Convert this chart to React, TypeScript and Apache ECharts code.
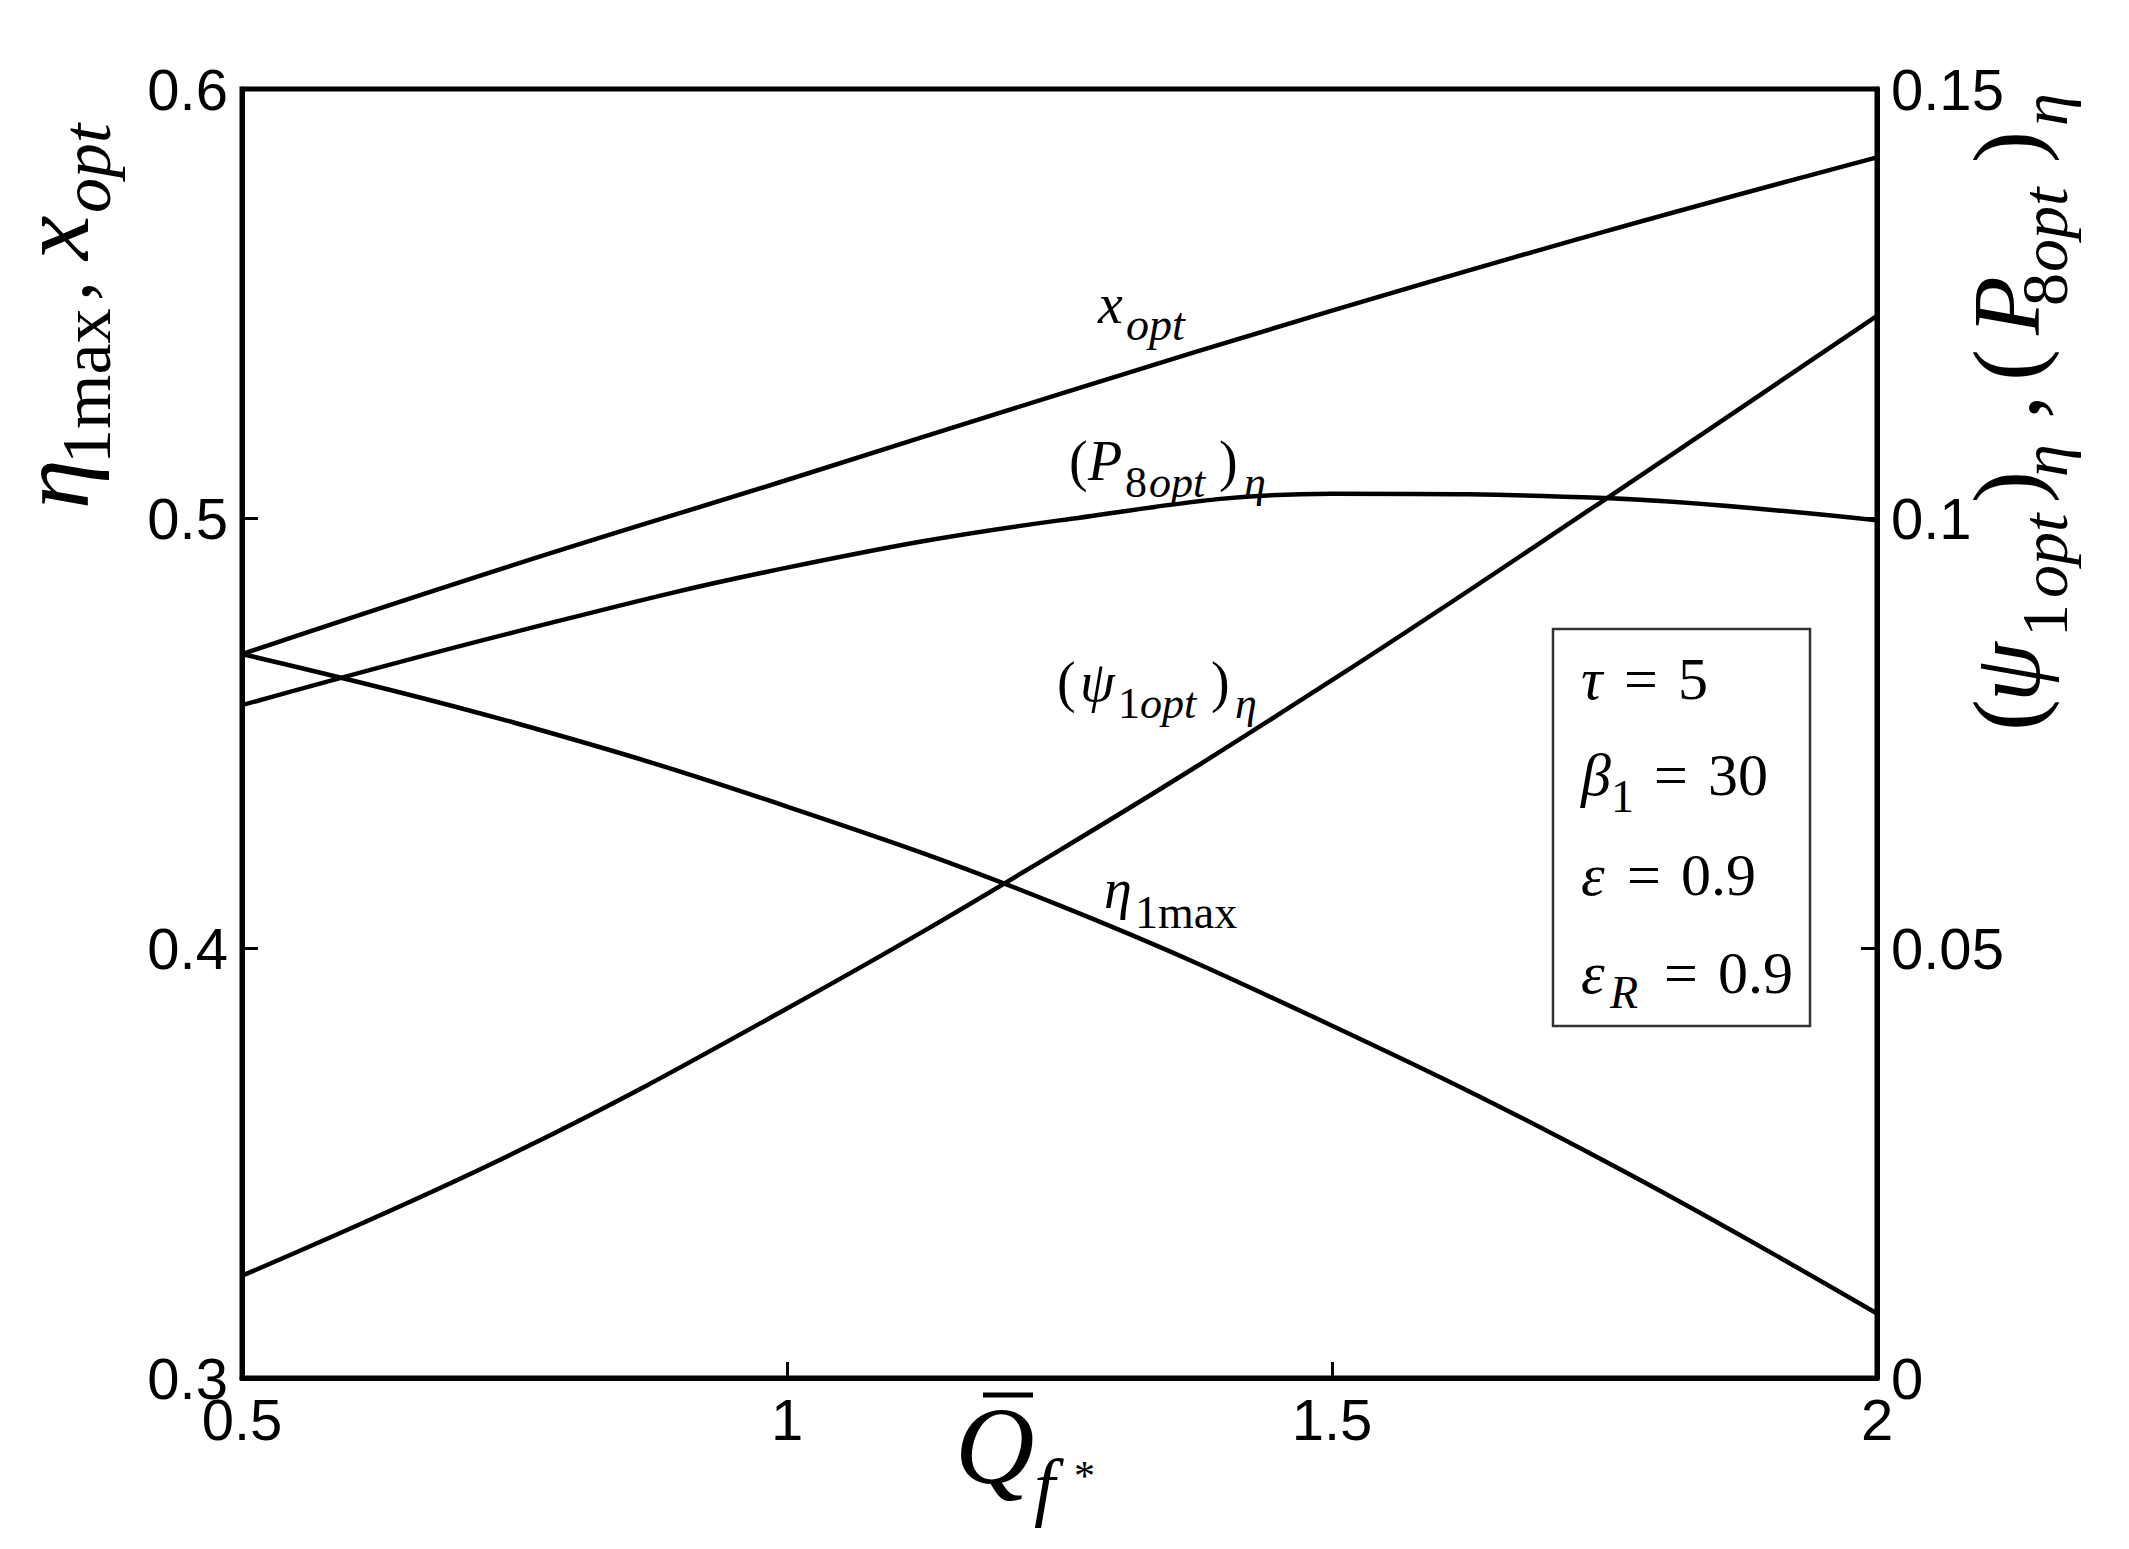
import React, { useEffect, useRef } from "react";
import * as echarts from "echarts";

// ---- data ----
const xValues = [0.5, 0.75, 1.0, 1.25, 1.5, 1.75, 2.0];
const xOptValues = [0.4685, 0.4893, 0.509, 0.529, 0.5484, 0.5668, 0.5841];
const eta1maxValues = [0.4685, 0.4525, 0.433, 0.41, 0.382, 0.3505, 0.315];
const psi1optValues = [0.0119, 0.0262, 0.043, 0.0614, 0.0812, 0.1022, 0.1236];
const p8optValues = [0.0783, 0.0868, 0.0943, 0.0998, 0.1029, 0.1024, 0.0998];

const xTicks = [0.5, 1, 1.5, 2];
const leftTicks = [0.3, 0.4, 0.5, 0.6];
const rightTicks = [0, 0.05, 0.1, 0.15];

const SERIF = '"Liberation Serif", "Times New Roman", serif';
const SANS = '"Liberation Sans", Arial, sans-serif';
const K = 0.3375; // central baseline offset (fraction of font size)

function st(t: string, size: number, italic: boolean) {
  return {
    text: t,
    font: `${italic ? "italic " : ""}${size}px ${SERIF}`,
    fill: "#000",
    align: "left",
    verticalAlign: "middle",
    textAlign: "left",
    textVerticalAlign: "middle",
  };
}
// horizontal piece: x = left start, b = baseline y
function ph(t: string, x: number, b: number, size: number, italic = false) {
  return { type: "text", x, y: b - K * size, z: 100, style: st(t, size, italic) };
}
// vertical piece (reads bottom to top): b = baseline screen x, s = start screen y
function pv(t: string, b: number, s: number, size: number, italic = false) {
  return { type: "text", x: b - K * size, y: s, rotation: Math.PI / 2, z: 100, style: st(t, size, italic) };
}

function nearestLabel(ticks: number[]) {
  return (v: number) => {
    let best = ticks[0];
    for (const t of ticks) if (Math.abs(t - v) < Math.abs(best - v)) best = t;
    return String(best);
  };
}

export default function App() {
  const ref = useRef<HTMLDivElement>(null);
  useEffect(() => {
    if (!ref.current) return;
    const chart = echarts.init(ref.current, undefined, { renderer: "svg" });
    const axisCommon = {
      type: "value",
      splitLine: { show: false },
      axisLine: { show: true, onZero: false, lineStyle: { color: "#000", width: 5 } },
      axisTick: { show: true, inside: true, length: 16, lineStyle: { color: "#000", width: 3 } },
    };
    const lineSeries = (data: number[], yAxisIndex: number) => ({
      type: "line",
      yAxisIndex,
      data: xValues.map((x, i) => [x, data[i]]),
      symbol: "none",
      showSymbol: false,
      smooth: 0.4,
      lineStyle: { color: "#000", width: 4.5 },
      z: 3,
    });
    const graphic: any[] = [
      // left y label: eta_1max , x_opt
      pv("η", 88, 509, 100, true),
      pv("1max", 110, 464, 70),
      pv(",", 90, 301, 80),
      pv("x", 88, 260, 100, true),
      pv("opt", 110, 213, 70, true),
      // right y label: (psi_1opt)_eta , (P_8opt)_eta
      pv("(", 2039, 731, 96),
      pv("ψ", 2039, 702, 96, true),
      pv("1", 2067, 637, 66),
      pv("opt", 2067, 598, 66, true),
      pv(")", 2039, 503, 96),
      pv("η", 2067, 477, 66, true),
      pv(",", 2039, 419, 96),
      pv("(", 2039, 381, 96),
      pv("P", 2039, 335, 96, true),
      pv("8", 2067, 306, 66),
      pv("opt", 2067, 272, 66, true),
      pv(")", 2039, 163, 96),
      pv("η", 2067, 126, 66, true),
      // x label: Q-bar_f*
      ph("Q", 955, 1483, 110, true),
      { type: "line", z: 100, shape: { x1: 983, y1: 1395, x2: 1033, y2: 1395 }, style: { stroke: "#000", lineWidth: 5 } },
      ph("f", 1034, 1512, 76, true),
      ph("*", 1074, 1490, 42),
      // curve labels
      ph("x", 1098, 323, 56, true),
      ph("opt", 1126, 340, 46, true),
      ph("(", 1069, 480, 56),
      ph("P", 1088, 480, 56, true),
      ph("8", 1125, 497, 44),
      ph("opt", 1149, 497, 44, true),
      ph(")", 1219, 480, 56),
      ph("η", 1244, 497, 44, true),
      ph("(", 1057, 701, 56),
      ph("ψ", 1080, 701, 56, true),
      ph("1", 1118, 718, 44),
      ph("opt", 1140, 718, 44, true),
      ph(")", 1211, 701, 56),
      ph("η", 1235, 718, 44, true),
      ph("η", 1104, 908, 56, true),
      ph("1max", 1135, 928, 46),
      // parameter box
      { type: "rect", z: 90, shape: { x: 1553, y: 629, width: 257, height: 397 }, style: { fill: "#fff", stroke: "#333", lineWidth: 2.5 } },
      ph("τ", 1581, 699, 60, true),
      ph("=", 1624, 699, 60),
      ph("5", 1678, 699, 60),
      ph("β", 1581, 795, 60, true),
      ph("1", 1611, 812, 46),
      ph("=", 1654, 795, 60),
      ph("30", 1708, 795, 60),
      ph("ε", 1581, 895, 60, true),
      ph("=", 1627, 895, 60),
      ph("0.9", 1681, 895, 60),
      ph("ε", 1581, 993, 60, true),
      ph("R", 1610, 1008, 46, true),
      ph("=", 1664, 993, 60),
      ph("0.9", 1718, 993, 60),
    ];
    const option: any = {
      animation: false,
      backgroundColor: "#fff",
      grid: { left: 242, top: 89, width: 1635, height: 1289, show: true, borderColor: "#000", borderWidth: 5 },
      xAxis: {
        ...axisCommon,
        min: xTicks[0],
        max: xTicks[xTicks.length - 1],
        interval: 0.5,
        axisLabel: { color: "#000", fontSize: 58, fontFamily: SANS, margin: 12, formatter: nearestLabel(xTicks) },
      },
      yAxis: [
        {
          ...axisCommon,
          position: "left",
          min: leftTicks[0],
          max: leftTicks[leftTicks.length - 1],
          interval: 0.1,
          axisLabel: { color: "#000", fontSize: 58, fontFamily: SANS, margin: 14, formatter: nearestLabel(leftTicks) },
        },
        {
          ...axisCommon,
          position: "right",
          min: rightTicks[0],
          max: rightTicks[rightTicks.length - 1],
          interval: 0.05,
          axisLabel: { color: "#000", fontSize: 58, fontFamily: SANS, margin: 14, formatter: nearestLabel(rightTicks) },
        },
      ],
      series: [
        lineSeries(xOptValues, 0),
        lineSeries(eta1maxValues, 0),
        lineSeries(psi1optValues, 1),
        lineSeries(p8optValues, 1),
      ],
      graphic,
    };
    chart.setOption(option);
    return () => chart.dispose();
  }, []);
  return (
    <div
      ref={ref}
      style={{ position: "absolute", left: 0, top: 0, width: 2129, height: 1549, background: "#fff" }}
    />
  );
}
